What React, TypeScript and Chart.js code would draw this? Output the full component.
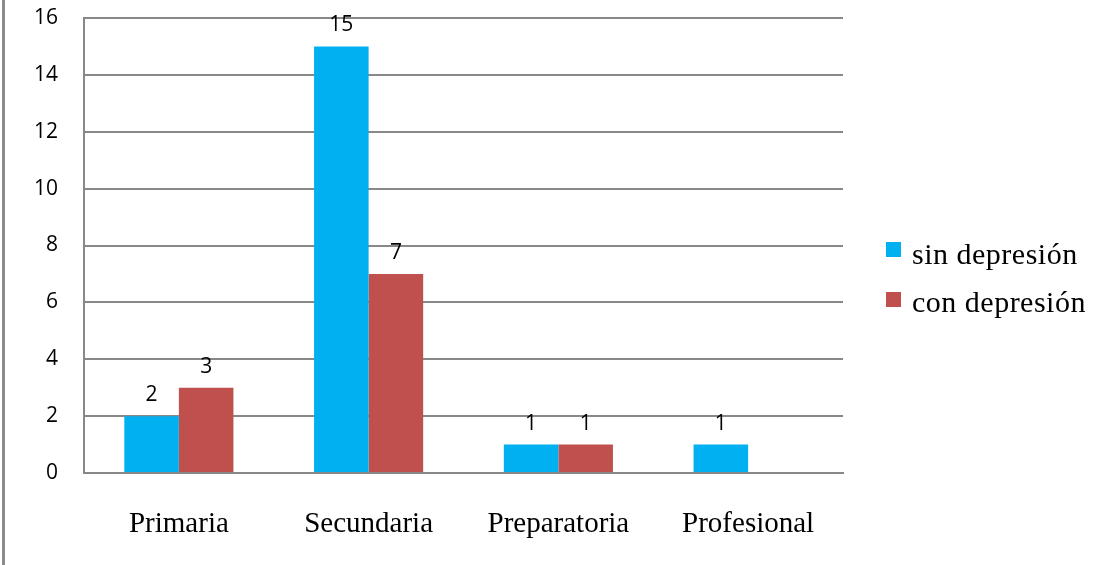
import React, { useEffect, useRef } from "react";
import { Chart, registerables } from "chart.js";

Chart.register(...registerables);

// Education level categories and counts per group
const categories = ["Primaria", "Secundaria", "Preparatoria", "Profesional"];
const sinDepresion = [2, 15, 1, 1];
const conDepresion = [3, 7, 1, 0];
const seriesNames = ["sin depresión", "con depresión"];
const seriesColors = ["#00B0F0", "#C0504D"];
const yMin = 0;
const yMax = 16;
const yStep = 2;

const GRID = "#888888";
const SANS = '"Open Sans", sans-serif';
const SERIF = '"Liberation Serif", "Times New Roman", serif';

// Value labels drawn above each non-zero bar
const valueLabels = {
  id: "valueLabels",
  afterDatasetsDraw(chart: any) {
    const ctx = chart.ctx;
    ctx.save();
    ctx.font = `21px ${SANS}`;
    ctx.fillStyle = "#000";
    ctx.textAlign = "center";
    ctx.textBaseline = "alphabetic";
    chart.data.datasets.forEach((ds: any, i: number) => {
      const meta = chart.getDatasetMeta(i);
      meta.data.forEach((bar: any, j: number) => {
        const v = ds.data[j];
        if (!v) return;
        ctx.fillText(String(v), bar.x, bar.y - 15);
      });
    });
    ctx.restore();
  },
};

// Legend at the right of the plot area
const sideLegend = {
  id: "sideLegend",
  afterDraw(chart: any) {
    const ctx = chart.ctx;
    const area = chart.chartArea;
    const x0 = area.right + 43;
    ctx.save();
    ctx.font = `30px ${SERIF}`;
    (ctx as any).letterSpacing = "0.5px";
    ctx.textAlign = "left";
    ctx.textBaseline = "alphabetic";
    chart.data.datasets.forEach((ds: any, i: number) => {
      const top = 242 + i * 50;
      ctx.fillStyle = ds.backgroundColor;
      ctx.fillRect(x0, top, 15, 15);
      ctx.fillStyle = "#000";
      ctx.fillText(ds.label, x0 + 26, 264 + i * 48);
    });
    ctx.restore();
  },
};

export default function App() {
  const canvasRef = useRef<HTMLCanvasElement | null>(null);

  useEffect(() => {
    const canvas = canvasRef.current;
    if (!canvas) return;
    const chart = new Chart(canvas, {
      type: "bar",
      data: {
        labels: categories,
        datasets: [
          {
            label: seriesNames[0],
            data: sinDepresion,
            backgroundColor: seriesColors[0],
            borderWidth: 0,
          },
          {
            label: seriesNames[1],
            data: conDepresion,
            backgroundColor: seriesColors[1],
            borderWidth: 0,
          },
        ],
      },
      options: {
        responsive: false,
        animation: false,
        devicePixelRatio: 1,
        layout: { padding: { left: 0, top: 18, right: 251, bottom: 0 } },
        datasets: {
          bar: { categoryPercentage: 0.575, barPercentage: 1 },
        },
        plugins: {
          legend: { display: false },
          tooltip: { enabled: false },
        },
        scales: {
          x: {
            grid: { display: false, drawTicks: false },
            border: { display: true, color: GRID, width: 2 },
            ticks: {
              color: "#000",
              font: { family: SERIF, size: 29 },
              padding: 34,
              maxRotation: 0,
            },
            afterFit(scale: any) {
              scale.height = 92;
              scale.paddingLeft = 0;
              scale.paddingRight = 0;
            },
          },
          y: {
            min: yMin,
            max: yMax,
            grid: { color: GRID, lineWidth: 2, drawTicks: false },
            border: { display: true, color: GRID, width: 2 },
            ticks: {
              stepSize: yStep,
              color: "#000",
              font: { family: SANS, size: 21 },
              padding: 26,
            },
            afterFit(scale: any) {
              scale.width = 84;
              scale.paddingTop = 0;
              scale.paddingBottom = 0;
            },
          },
        },
      },
      plugins: [valueLabels, sideLegend],
    });
    return () => chart.destroy();
  }, []);

  return (
    <div
      style={{
        position: "fixed",
        left: 0,
        top: 0,
        width: 1094,
        height: 565,
        background: "#fff",
        overflow: "hidden",
      }}
    >
      <div
        style={{
          position: "absolute",
          left: 2,
          top: 0,
          width: 0,
          height: 565,
          borderLeft: "3px solid #8c8c8c",
        }}
      />
      <canvas
        ref={canvasRef}
        width={1094}
        height={565}
        style={{ position: "absolute", left: 0, top: 0 }}
      />
    </div>
  );
}
